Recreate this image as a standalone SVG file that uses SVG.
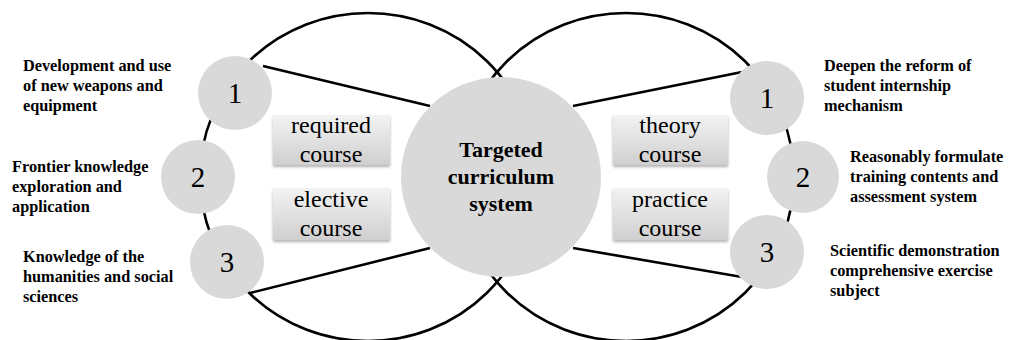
<svg xmlns="http://www.w3.org/2000/svg" width="1010" height="340" viewBox="0 0 1010 340">
<defs>
<linearGradient id="boxg" x1="0" y1="0" x2="0" y2="1">
<stop offset="0" stop-color="#f3f3f3"/>
<stop offset="1" stop-color="#cfcfcf"/>
</linearGradient>
<filter id="sh" x="-10%" y="-10%" width="130%" height="140%">
<feDropShadow dx="0" dy="2" stdDeviation="1.5" flood-color="#000" flood-opacity="0.3"/>
</filter>
</defs>
<style>
.ring{fill:none;stroke:#000;stroke-width:2.6}
.link{stroke:#000;stroke-width:2.6}
.dot{fill:#d9d9d9}
.num{font-size:29px;text-anchor:middle}
.box{fill:url(#boxg);filter:url(#sh)}
.btxt{font-size:24px;text-anchor:middle}
.ctr{font-size:22px;font-weight:bold;text-anchor:middle}
.lbl{font-size:16.3px;font-weight:bold}
</style>
<rect width="1010" height="340" fill="#fff"/>
<g id="connectors">
<ellipse class="ring" cx="368" cy="177" rx="168" ry="164"/>
<ellipse class="ring" cx="626" cy="177" rx="168" ry="164"/>
<line class="link" x1="263" y1="66" x2="430" y2="106"/>
<line class="link" x1="250" y1="293" x2="430" y2="248"/>
<line class="link" x1="742" y1="72" x2="573" y2="106"/>
<line class="link" x1="742" y1="277" x2="573" y2="248"/>
</g>
<g font-family="Liberation Serif, serif" fill="#000">
<g id="center">
<circle class="dot" cx="501" cy="177" r="100"/>
<text class="ctr" x="501" y="157">Targeted</text>
<text class="ctr" x="501" y="184">curriculum</text>
<text class="ctr" x="501" y="211">system</text>
</g>
<g id="required">
<rect class="box" x="273" y="115" width="117" height="50"/>
<text class="btxt" x="331" y="133">required</text>
<text class="btxt" x="331" y="162">course</text>
</g>
<g id="elective">
<rect class="box" x="273" y="188" width="117" height="52"/>
<text class="btxt" x="331" y="207">elective</text>
<text class="btxt" x="331" y="236">course</text>
</g>
<g id="theory">
<rect class="box" x="613" y="115" width="115" height="50"/>
<text class="btxt" x="670" y="133">theory</text>
<text class="btxt" x="670" y="162">course</text>
</g>
<g id="practice">
<rect class="box" x="613" y="188" width="115" height="52"/>
<text class="btxt" x="670" y="207">practice</text>
<text class="btxt" x="670" y="236">course</text>
</g>
<g id="left1">
<circle class="dot" cx="235" cy="93" r="37"/>
<text class="num" x="235" y="103">1</text>
<text class="lbl" x="23" y="71">Development and use</text>
<text class="lbl" x="23" y="91">of new weapons and</text>
<text class="lbl" x="23" y="111">equipment</text>
</g>
<g id="left2">
<circle class="dot" cx="198" cy="177" r="37"/>
<text class="num" x="198" y="187">2</text>
<text class="lbl" x="12" y="172">Frontier knowledge</text>
<text class="lbl" x="12" y="192">exploration and</text>
<text class="lbl" x="12" y="212">application</text>
</g>
<g id="left3">
<circle class="dot" cx="227" cy="262" r="37"/>
<text class="num" x="227" y="272">3</text>
<text class="lbl" x="23" y="262">Knowledge of the</text>
<text class="lbl" x="23" y="282">humanities and social</text>
<text class="lbl" x="23" y="302">sciences</text>
</g>
<g id="right1">
<circle class="dot" cx="767" cy="98" r="37"/>
<text class="num" x="767" y="108">1</text>
<text class="lbl" x="824" y="71">Deepen the reform of</text>
<text class="lbl" x="824" y="91">student internship</text>
<text class="lbl" x="824" y="111">mechanism</text>
</g>
<g id="right2">
<circle class="dot" cx="803" cy="177" r="36"/>
<text class="num" x="803" y="187">2</text>
<text class="lbl" x="850" y="162">Reasonably formulate</text>
<text class="lbl" x="850" y="182">training contents and</text>
<text class="lbl" x="850" y="202">assessment system</text>
</g>
<g id="right3">
<circle class="dot" cx="767" cy="252" r="37"/>
<text class="num" x="767" y="262">3</text>
<text class="lbl" x="830" y="256">Scientific demonstration</text>
<text class="lbl" x="830" y="276">comprehensive exercise</text>
<text class="lbl" x="830" y="296">subject</text>
</g>
</g>
</svg>
